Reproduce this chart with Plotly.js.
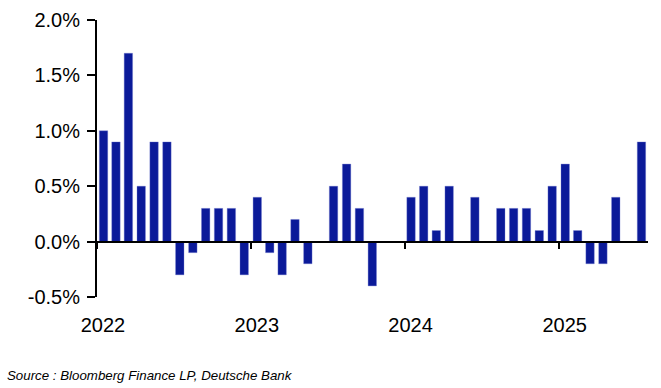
<!DOCTYPE html>
<html>
<head>
<meta charset="utf-8">
<script src="https://cdn.plot.ly/plotly-3.0.1.min.js"></script>
<style>html,body{margin:0;padding:0;background:#fff;}#chart{width:661px;height:388px;}</style>
</head>
<body>
<div id="chart"></div>
<script>
// Monthly values, Jan 2022 – Jul 2025 (%)
const months = [
  '2022-01','2022-02','2022-03','2022-04','2022-05','2022-06','2022-07','2022-08','2022-09','2022-10','2022-11','2022-12',
  '2023-01','2023-02','2023-03','2023-04','2023-05','2023-06','2023-07','2023-08','2023-09','2023-10','2023-11','2023-12',
  '2024-01','2024-02','2024-03','2024-04','2024-05','2024-06','2024-07','2024-08','2024-09','2024-10','2024-11','2024-12',
  '2025-01','2025-02','2025-03','2025-04','2025-05','2025-06','2025-07'
];
const values = [
  1.0, 0.9, 1.7, 0.5, 0.9, 0.9, -0.3, -0.1, 0.3, 0.3, 0.3, -0.3,
  0.4, -0.1, -0.3, 0.2, -0.2, 0.0, 0.5, 0.7, 0.3, -0.4, 0.0, 0.0,
  0.4, 0.5, 0.1, 0.5, 0.0, 0.4, 0.0, 0.3, 0.3, 0.3, 0.1, 0.5,
  0.7, 0.1, -0.2, -0.2, 0.4, 0.0, 0.9
];
const yTickVals = [-0.5, 0, 0.5, 1.0, 1.5, 2.0];
const yTickText = ['-0.5%', '0.0%', '0.5%', '1.0%', '1.5%', '2.0%'];
const sourceText = 'Source : Bloomberg Finance LP, Deutsche Bank';

const FONT = 'Liberation Sans, Arial, Helvetica, sans-serif';
const DAY = 86400000;

const trace = {
  type: 'bar',
  x: months,
  y: values,
  xperiod: 'M1',
  xperiodalignment: 'middle',
  width: 20 * DAY,
  marker: { color: '#0b1a99', line: { color: 'rgba(120,130,210,0.6)', width: 0.6 } },
  hoverinfo: 'skip'
};

const layout = {
  width: 661,
  height: 388,
  margin: { l: 97, r: 13, t: 20, b: 91 },
  paper_bgcolor: '#ffffff',
  plot_bgcolor: '#ffffff',
  showlegend: false,
  font: { family: FONT, size: 20, color: '#000' },
  xaxis: {
    type: 'date',
    range: ['2022-01-01', '2025-08-01'],
    anchor: 'free',
    position: 0.2,
    showline: true,
    linecolor: '#000',
    linewidth: 2,
    showgrid: false,
    zeroline: false,
    ticks: 'outside',
    ticklen: 6,
    tickwidth: 2,
    tickcolor: '#000',
    tick0: '2022-01-01',
    dtick: 'M12',
    tickformat: '%Y',
    ticklabelstandoff: 59,
    ticklabelshift: 6,
    tickfont: { family: FONT, size: 20, color: '#000' }
  },
  yaxis: {
    range: [-0.5, 2.0],
    tickvals: yTickVals,
    ticktext: yTickText,
    showline: true,
    linecolor: '#000',
    linewidth: 2,
    showgrid: false,
    zeroline: false,
    ticks: 'outside',
    ticklen: 8,
    tickwidth: 2,
    tickcolor: '#000',
    ticklabelstandoff: 3,
    tickfont: { family: FONT, size: 20, color: '#000' }
  },
  annotations: [{
    text: '<i>' + sourceText + '</i>',
    xref: 'paper', yref: 'paper',
    x: -97 / 551, y: -78 / 277,
    xanchor: 'left', yanchor: 'middle',
    xshift: 5,
    showarrow: false,
    font: { family: FONT, size: 13.3, color: '#000' }
  }]
};

Plotly.newPlot('chart', [trace], layout, { staticPlot: true, displayModeBar: false });
</script>
</body>
</html>
